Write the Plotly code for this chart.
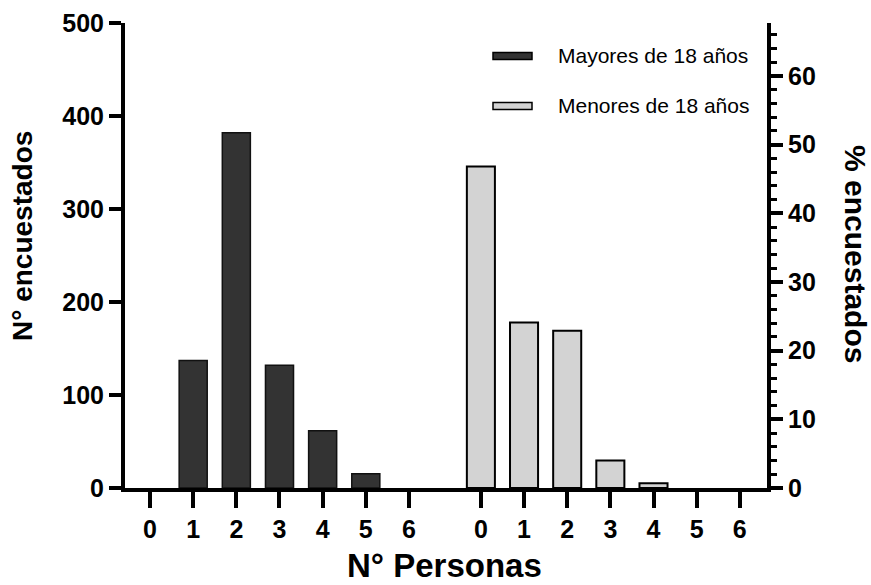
import plotly.graph_objects as go

# ---- data ----
personas = ["0", "1", "2", "3", "4", "5", "6"]
mayores_n = [0, 137, 382, 132, 61.6, 15.4, 0]          # N° encuestados (left axis)
menores_pct = [46.8, 24.1, 22.9, 4.0, 0.7, 0, 0]        # % encuestados (right axis)
series_names = ["Mayores de 18 años", "Menores de 18 años"]
left_ticks = [0, 100, 200, 300, 400, 500]
right_ticks = [0, 10, 20, 30, 40, 50, 60]

GAP = 1 + 2 / 3  # spacing between the two groups (in category units)
x_left = [i for i in range(len(personas))]
x_right = [len(personas) - 1 + GAP + i for i in range(len(personas))]

FONT = "Liberation Sans, Arial, sans-serif"
W, H = 871, 585
ML, MR, MT, MB = 125, 104, 23, 97

fig = go.Figure()
fig.add_trace(go.Bar(
    x=x_left, y=mayores_n, name=series_names[0], width=0.65,
    marker=dict(color="#333333",
                line=dict(color="#111111", width=[1.5 if v > 0 else 0 for v in mayores_n])),
    yaxis="y", showlegend=False,
))
fig.add_trace(go.Bar(
    x=x_right, y=menores_pct, name=series_names[1], width=0.65,
    marker=dict(color="#d3d3d3",
                line=dict(color="#000000", width=[2 if v > 0 else 0 for v in menores_pct])),
    yaxis="y2", showlegend=False,
))

tickfont = dict(family=FONT, size=25, color="black", weight="bold")

fig.update_layout(
    width=W, height=H,
    margin=dict(l=ML, r=MR, t=MT, b=MB),
    paper_bgcolor="white", plot_bgcolor="white",
    barmode="overlay",
    xaxis=dict(
        range=[-0.58, x_right[-1] + 0.63],
        tickvals=x_left + x_right, ticktext=personas + personas,
        showline=True, linecolor="black", linewidth=4,
        ticks="outside", ticklen=16, tickwidth=4, tickcolor="black",
        tickfont=tickfont, showgrid=False, zeroline=False, automargin=False,
    ),
    yaxis=dict(
        range=[0, 500], tickvals=left_ticks,
        showline=True, linecolor="black", linewidth=4,
        ticks="outside", ticklen=12, tickwidth=4, tickcolor="black",
        tickfont=tickfont, showgrid=False, zeroline=False, automargin=False,
    ),
    yaxis2=dict(
        overlaying="y", side="right",
        range=[0, 67.7], tickvals=right_ticks,
        showline=True, linecolor="black", linewidth=4,
        ticks="outside", ticklen=12, tickwidth=4, tickcolor="black",
        minor=dict(dtick=2, ticks="outside", ticklen=6, tickwidth=3, tickcolor="black"),
        tickfont=tickfont, showgrid=False, zeroline=False, automargin=False,
    ),
)

# layout helpers in page pixels
def px_x(x):
    return (x - ML) / (W - ML - MR)
def px_y(y):
    return 1 - (y - MT) / (H - MT - MB)

# axis titles
fig.add_annotation(text="N° Personas", xref="paper", yref="paper", x=px_x(444), y=px_y(565),
                   yanchor="middle", xanchor="center", showarrow=False,
                   font=dict(family=FONT, size=33, color="black", weight="bold"))
fig.add_annotation(text="N° encuestados", xref="paper", yref="paper", x=px_x(23), y=px_y(236),
                   xanchor="center", yanchor="middle", textangle=-90, showarrow=False,
                   font=dict(family=FONT, size=28, color="black", weight="bold"))
fig.add_annotation(text="% encuestados", xref="paper", yref="paper", x=px_x(856), y=px_y(254),
                   xanchor="center", yanchor="middle", textangle=90, showarrow=False,
                   font=dict(family=FONT, size=30, color="black", weight="bold"))

# legend (drawn manually to match the wide bar swatches)
legend_rows = [(series_names[0], "#333333", 56), (series_names[1], "#d3d3d3", 106)]
for name, col, ypx in legend_rows:
    fig.add_shape(type="rect", xref="paper", yref="paper",
                  x0=px_x(493), x1=px_x(532), y0=px_y(ypx + 3.5), y1=px_y(ypx - 3.5),
                  fillcolor=col, line=dict(color="black", width=1.5))
    fig.add_annotation(text=name, xref="paper", yref="paper", x=px_x(556), y=px_y(ypx),
                       xanchor="left", yanchor="middle", showarrow=False,
                       font=dict(family=FONT, size=21, color="black"))

fig.write_html("out.html", config={"displayModeBar": False},
               post_script="document.body.style.margin='0px';")
